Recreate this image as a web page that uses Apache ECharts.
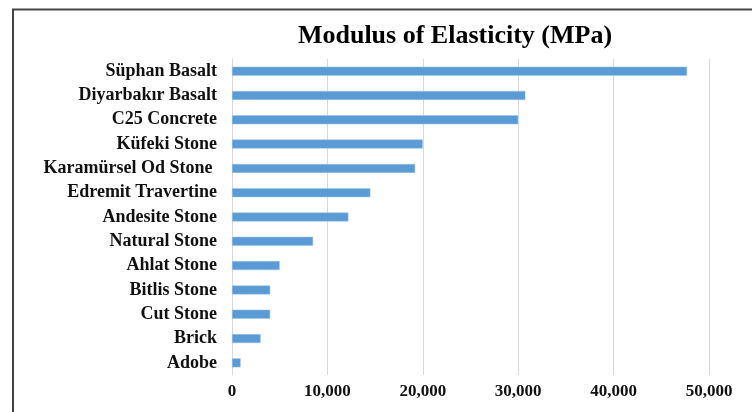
<!DOCTYPE html>
<html>
<head>
<meta charset="utf-8">
<script src="https://cdn.jsdelivr.net/npm/echarts@6/dist/echarts.min.js"></script>
<style>
  html, body { margin: 0; padding: 0; background: #fff; }
  #chart { width: 752px; height: 412px; }
</style>
</head>
<body>
<div id="chart"></div>
<script>
const categories = [
  'Süphan Basalt', 'Diyarbakır Basalt', 'C25 Concrete', 'Küfeki Stone',
  'Karamürsel Od Stone ', 'Edremit Travertine', 'Andesite Stone', 'Natural Stone',
  'Ahlat Stone', 'Bitlis Stone', 'Cut Stone', 'Brick', 'Adobe'
]
const modulus = [47700, 30750, 30000, 20000, 19200, 14500, 12200, 8500, 5000, 4000, 4000, 3000, 900]
const xTicks = [0, 10000, 20000, 30000, 40000, 50000]

const serif = '"Liberation Serif", "Times New Roman", serif'
const chart = echarts.init(document.getElementById('chart'))

chart.setOption({
  animation: false,
  title: {
    text: 'Modulus of Elasticity (MPa)',
    left: 450,
    textAlign: 'center',
    top: 18,
    textStyle: { fontFamily: serif, fontSize: 26, fontWeight: 'bold', color: '#000' }
  },
  graphic: [
    {
      type: 'polyline',
      shape: { points: [[13, 412], [13, 9.5], [752, 9.5]] },
      style: { stroke: '#444', lineWidth: 2, fill: null }
    }
  ],
  grid: { left: 232, right: 43, top: 59, bottom: 37 },
  xAxis: {
    type: 'value',
    min: xTicks[0],
    max: xTicks[xTicks.length - 1],
    interval: 10000,
    axisLine: { show: false },
    axisTick: { show: false },
    splitLine: { lineStyle: { color: '#d9d9d9', width: 1 } },
    axisLabel: {
      margin: 8,
      fontFamily: serif,
      fontSize: 17,
      fontWeight: 'bold',
      color: '#111',
      formatter: (v) => v.toLocaleString('en-US')
    }
  },
  yAxis: {
    type: 'category',
    inverse: true,
    data: categories,
    axisLine: { show: true, lineStyle: { color: '#d9d9d9' } },
    axisTick: { show: false },
    axisLabel: {
      margin: 15,
      fontFamily: serif,
      fontSize: 18,
      fontWeight: 'bold',
      color: '#111'
    }
  },
  series: [
    {
      type: 'bar',
      data: modulus,
      barWidth: 9,
      itemStyle: { color: '#5b9bd5', borderColor: '#9cc3e6', borderWidth: 0.5 }
    }
  ]
})
</script>
</body>
</html>
